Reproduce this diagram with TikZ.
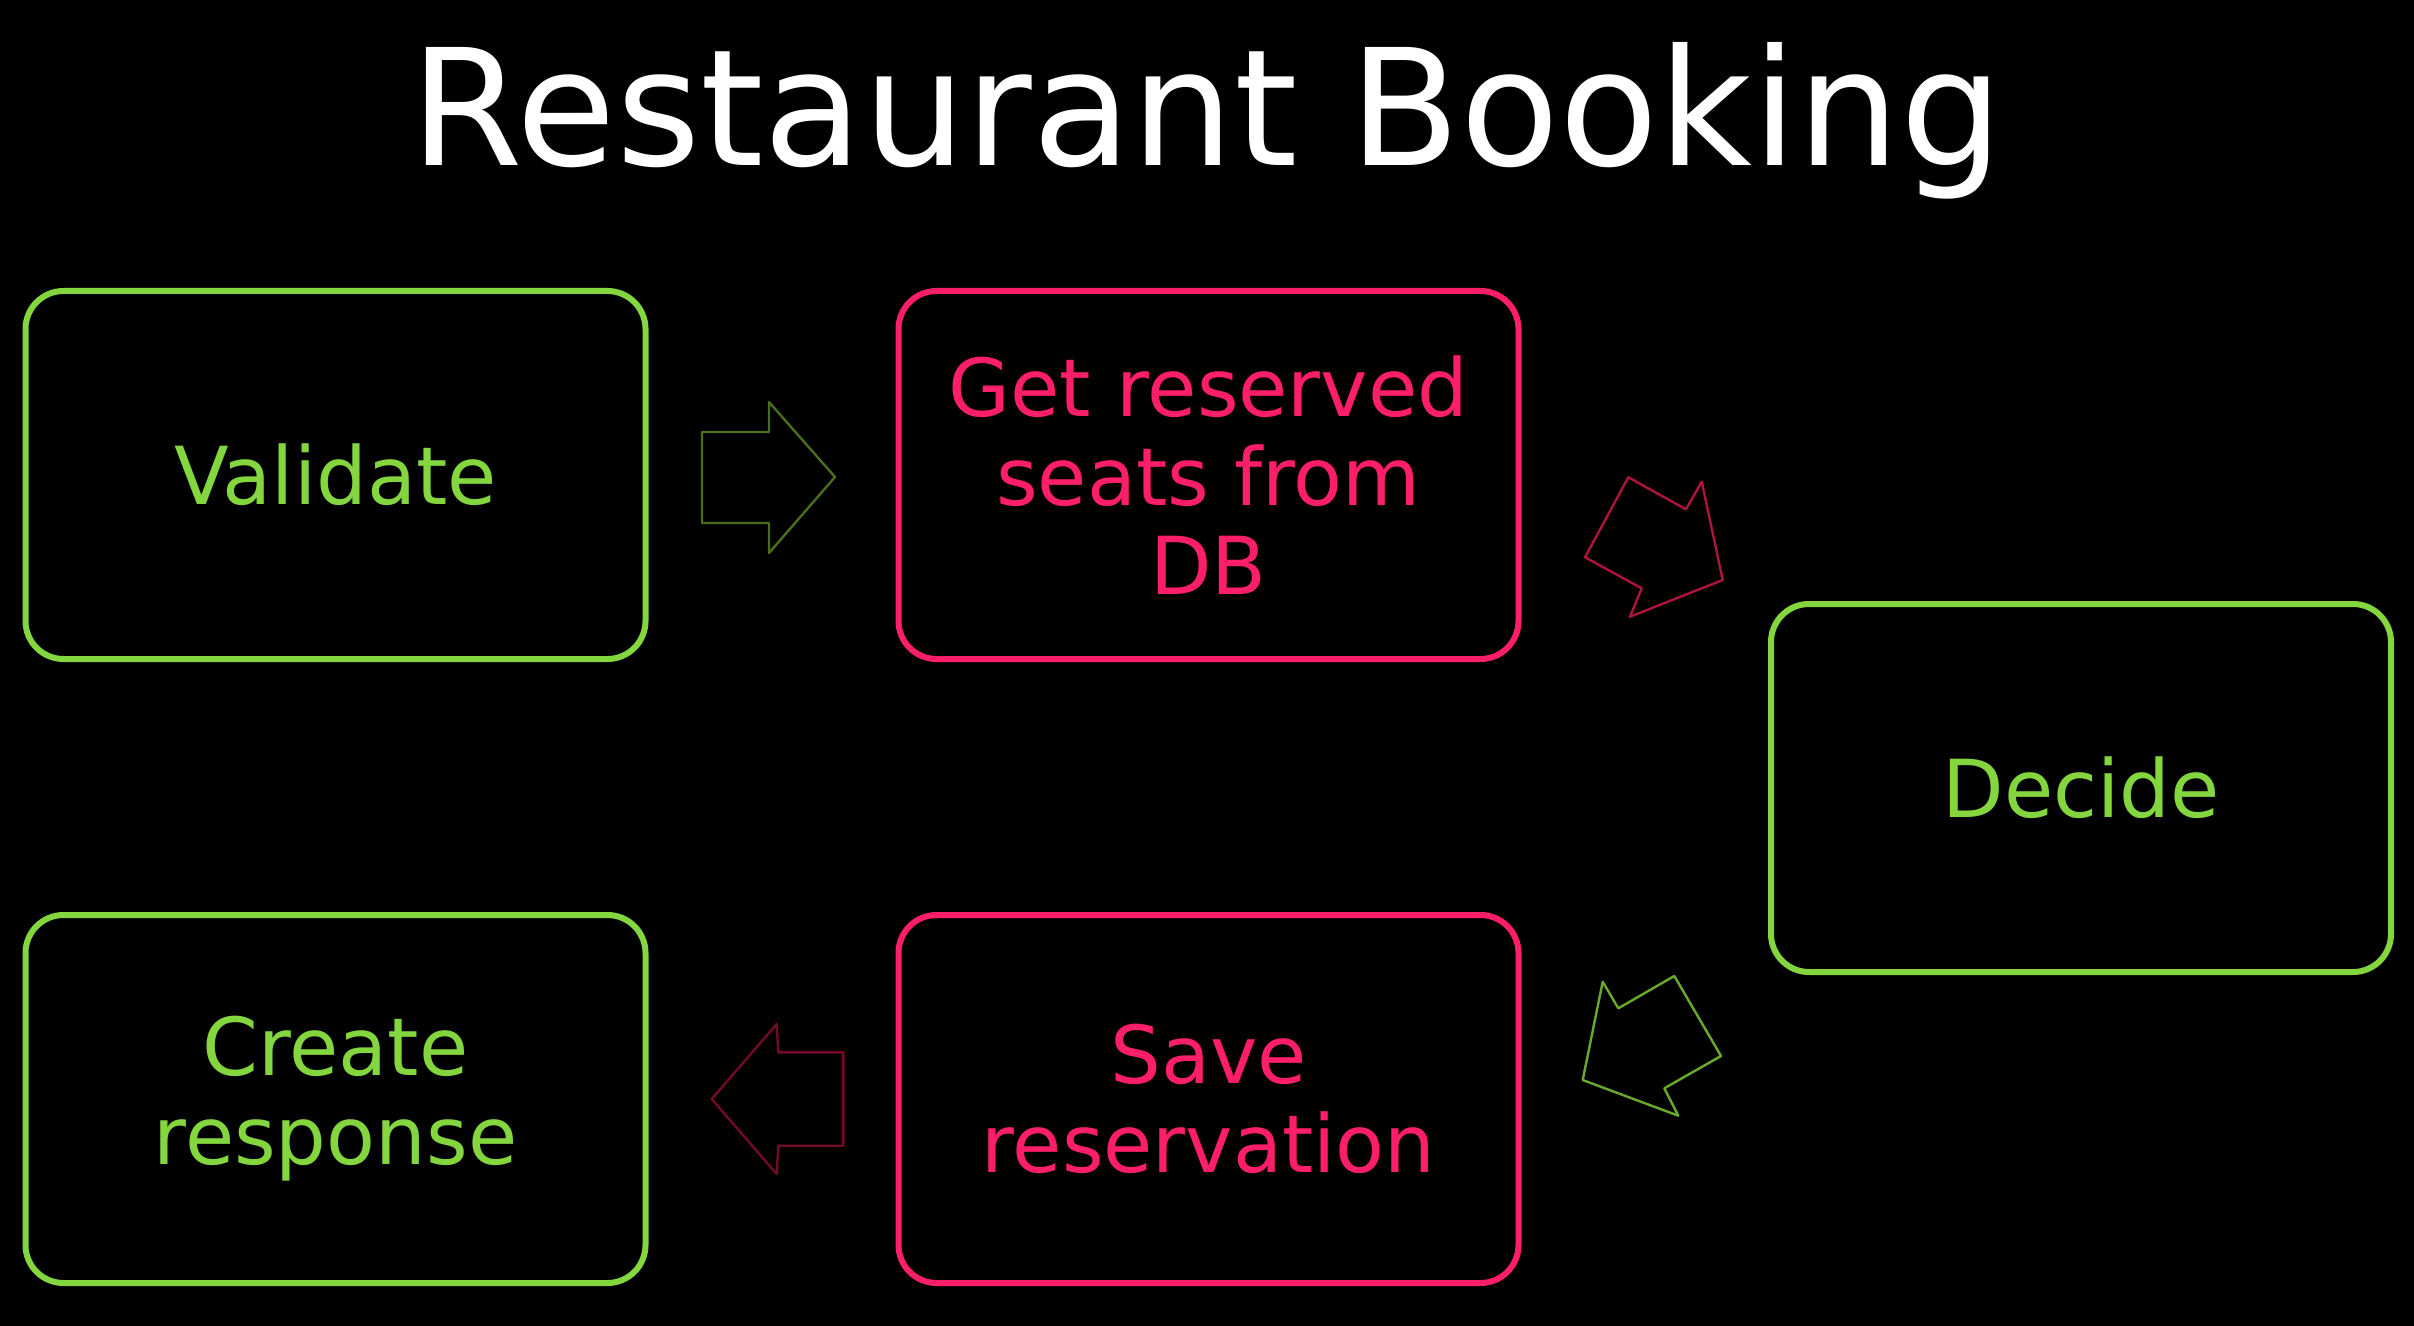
\documentclass[tikz,border=0pt]{standalone}
\usepackage{fontspec}
\setmainfont{DejaVu Sans}
\definecolor{boxgreen}{RGB}{132,214,62}
\definecolor{boxpink}{RGB}{255,30,105}
\definecolor{arrA}{RGB}{75,110,25}
\definecolor{arrB}{RGB}{175,20,60}
\definecolor{arrC}{RGB}{105,170,45}
\definecolor{arrD}{RGB}{115,10,40}
\begin{document}
\begin{tikzpicture}[x=0.5pt,y=-0.5pt,
  stepbox/.style={draw, line width=3pt, rounded corners=19pt, minimum width=310pt, minimum height=184pt, align=center, font=\fontsize{40}{44.5}\selectfont, inner sep=0pt},
  greenbox/.style={stepbox, draw=boxgreen, text=boxgreen},
  pinkbox/.style={stepbox, draw=boxpink, text=boxpink},
  blockarrow/.style={line width=1.2pt, line join=round}]
\fill[black] (0,0) rectangle (2414,1326);
\useasboundingbox (0,0) rectangle (2414,1326);
\node[anchor=base, text=white, font=\fontsize{81}{90}\selectfont, inner sep=0pt] (title) at (1207,166) {Restaurant Booking};
\node[greenbox] (validate) at (335.5,475) {Validate};
\node[pinkbox] (getseats) at (1208.5,475) {Get reserved\\seats from\\DB};
\node[greenbox] (decide) at (2081,788) {Decide};
\node[pinkbox] (save) at (1208.5,1099) {Save\\reservation};
\node[greenbox] (create) at (335.5,1099) {Create\\response};
% block arrows
\draw[blockarrow, draw=arrA] (702,432) -- (769,432) -- (769,402) -- (835,477) -- (769,553) -- (769,523) -- (702,523) -- cycle;
\draw[blockarrow, draw=arrB] (1628.3,477.3) -- (1686,509.3) -- (1701.7,481.7) -- (1722.7,580) -- (1630,616.7) -- (1641.7,588.3) -- (1585,557.3) -- cycle;
\draw[blockarrow, draw=arrC] (1602.7,981.7) -- (1618.3,1008.3) -- (1674.3,976) -- (1721,1056) -- (1664.3,1088.3) -- (1678.3,1115.7) -- (1582.7,1080) -- cycle;
\draw[blockarrow, draw=arrD] (776.7,1024) -- (778.3,1052.3) -- (843.3,1052.3) -- (843.3,1145.7) -- (778.3,1145.7) -- (776.7,1174) -- (711.7,1099) -- cycle;
\end{tikzpicture}
\end{document}
